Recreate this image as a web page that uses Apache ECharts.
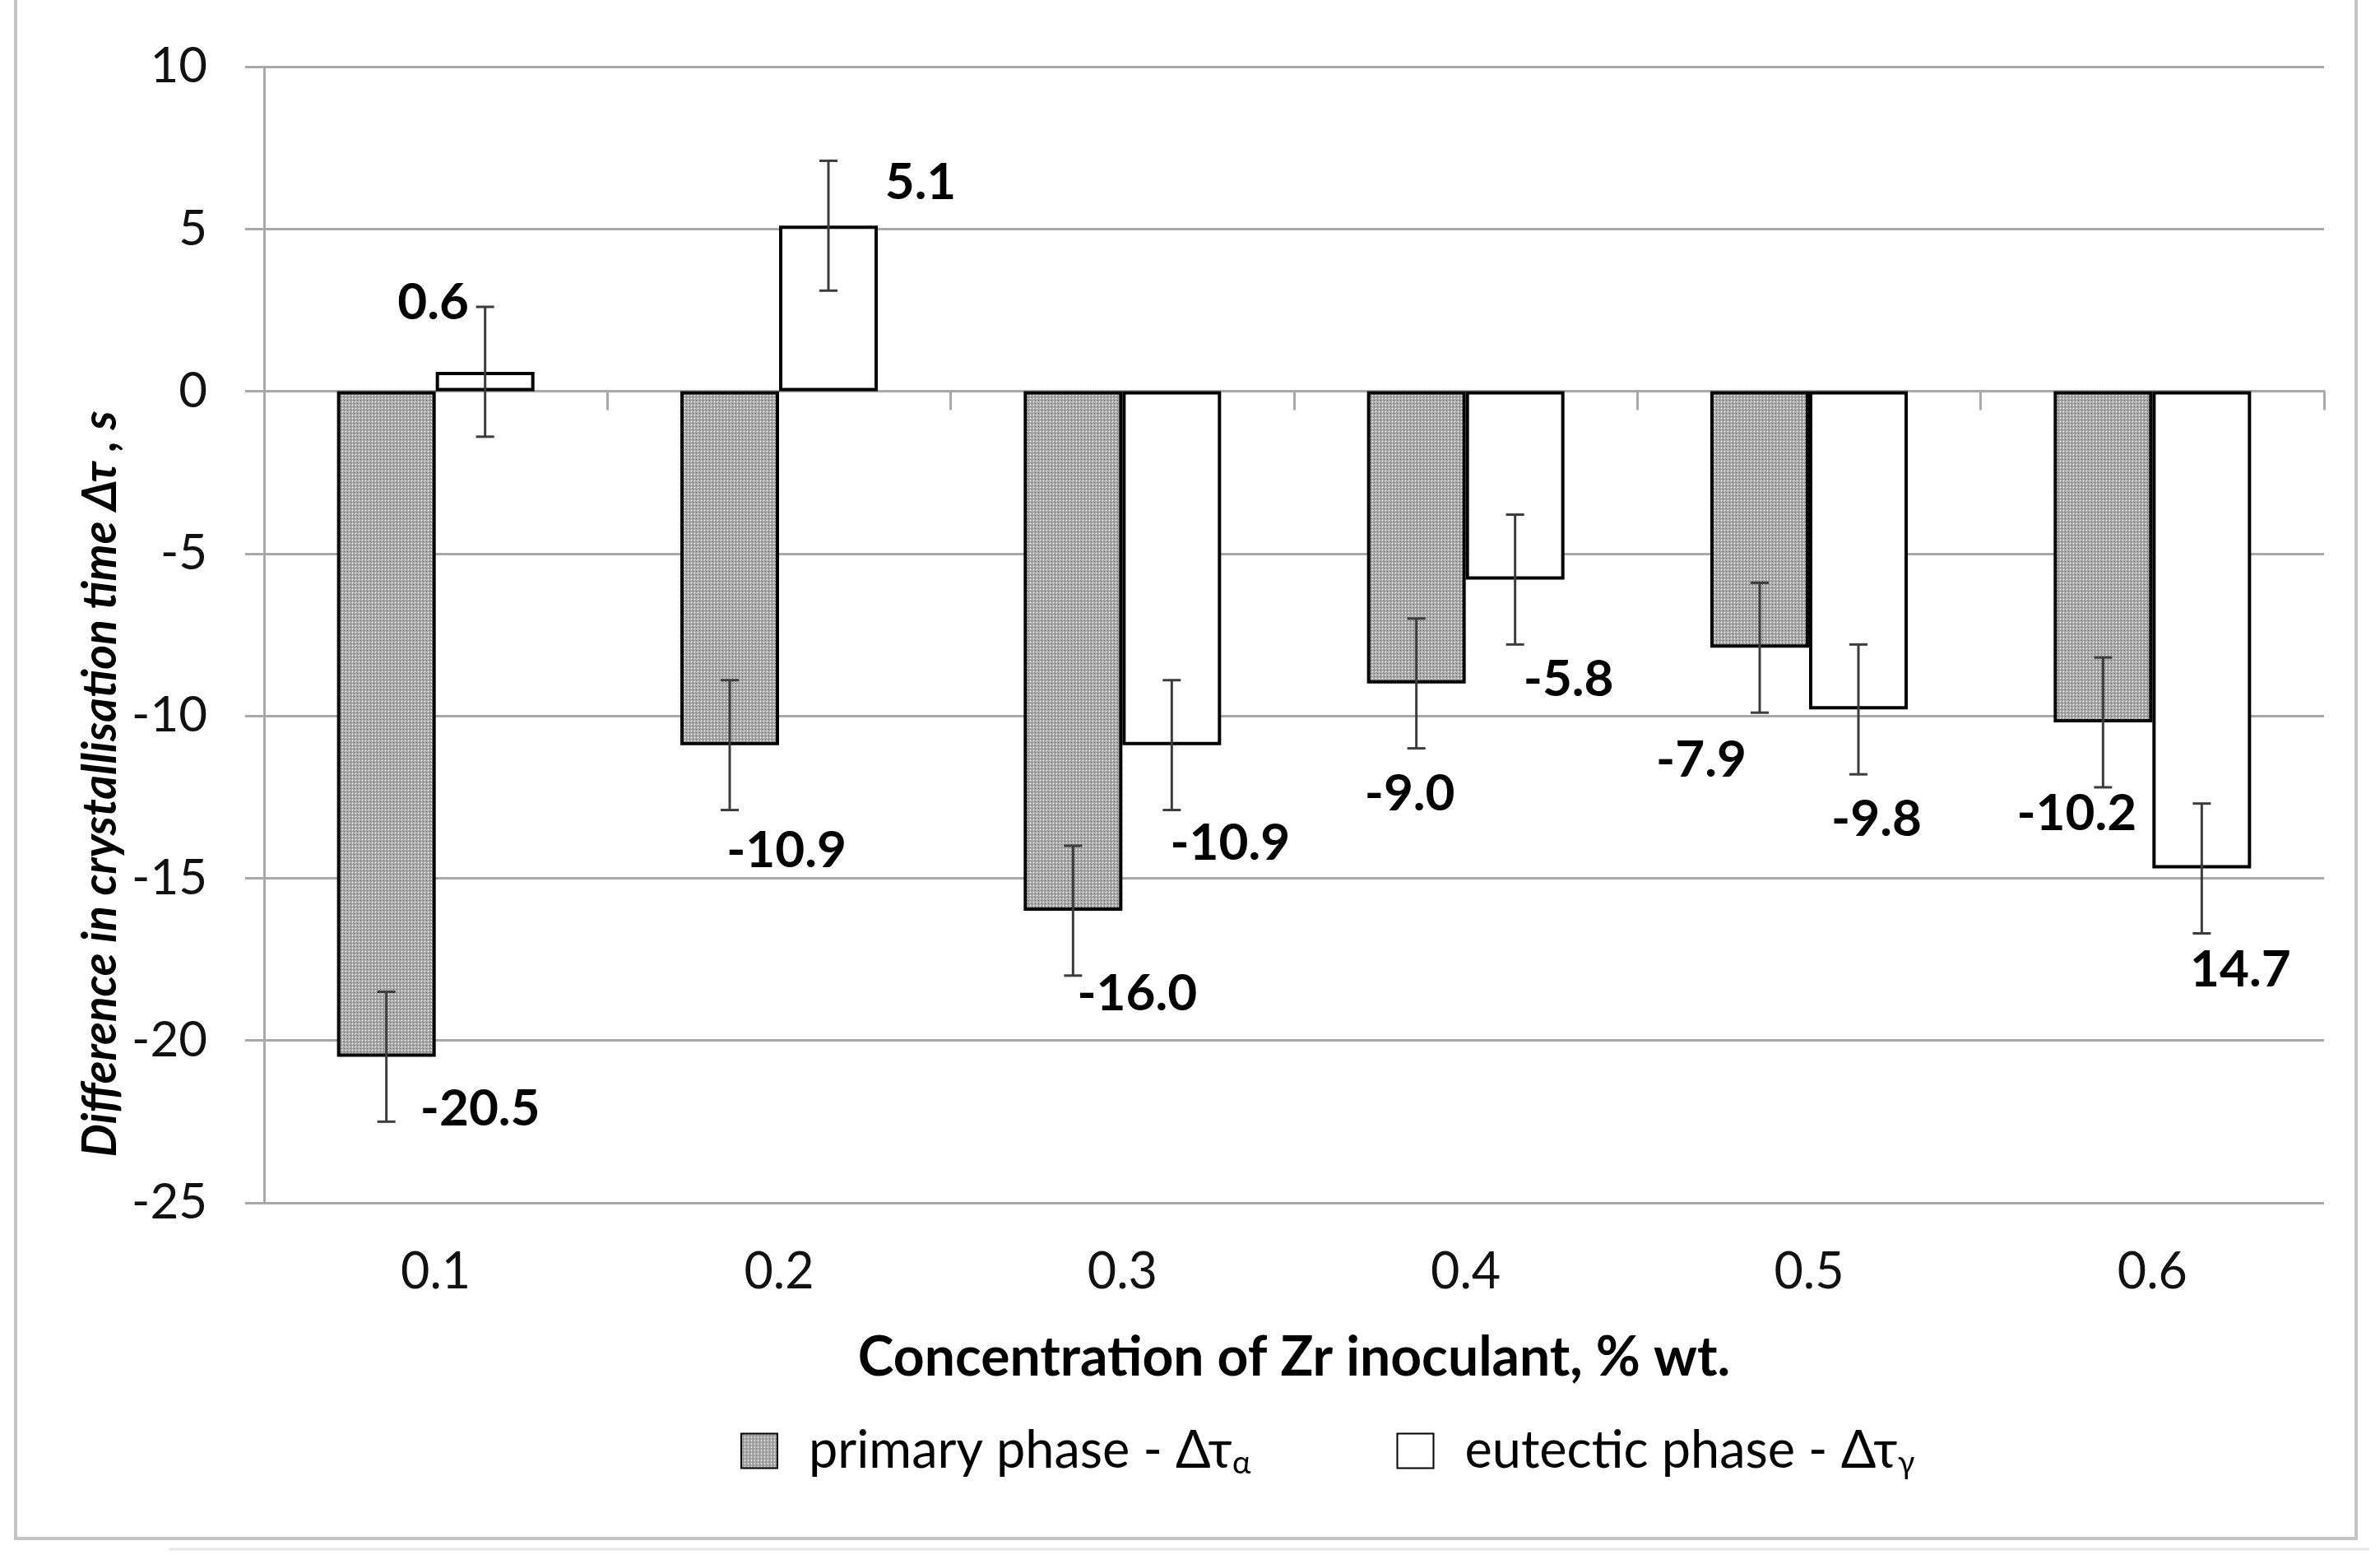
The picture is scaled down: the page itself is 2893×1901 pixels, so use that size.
<!DOCTYPE html>
<html><head><meta charset="utf-8">
<script src="https://cdn.jsdelivr.net/npm/echarts@6/dist/echarts.min.js"></script>
<style>html,body{margin:0;padding:0;background:#fff}#c{width:2893px;height:1901px}</style>
</head><body><div id="c"></div>
<script>
// ---- data ----
const categories = ['0.1', '0.2', '0.3', '0.4', '0.5', '0.6'];
const primaryValues = [-20.5, -10.9, -16.0, -9.0, -7.9, -10.2];
const eutecticValues = [0.6, 5.1, -10.9, -5.8, -9.8, -14.7];
const primaryErrors = [2, 2, 2, 2, 2, 2];
const eutecticErrors = [2, 2, 2, 2, 2, 2];
const primaryLabels = ['-20.5', '-10.9', '-16.0', '-9.0', '-7.9', '-10.2'];
const eutecticLabels = ['0.6', '5.1', '-10.9', '-5.8', '-9.8', '14.7'];
const yTicks = [-25, -20, -15, -10, -5, 0, 5, 10];

// ---- styling (label offsets in px from bar end) ----
const primaryLabelOffsets = [[114, 64], [69, 128], [78, 101], [-8, 134], [-71, 137], [-32, 111]];
const eutecticLabelOffsets = [[-63, -84], [112, -52], [71, 119], [65, 122], [22, 134], [47, 123]];
const BAR_W = 120;
const GRID_COLOR = '#a9a9a9';
const FONT = 'Lato';

// pattern fill for primary phase
const pc = document.createElement('canvas');
pc.width = 8; pc.height = 8;
const pctx = pc.getContext('2d');
for (let i = 0; i < 8; i++) {
  for (let j = 0; j < 8; j++) {
    let c = ((i + j) % 2 === 0) ? '#888888' : '#cacaca';
    if (i % 4 === 0 && j % 4 === 0) c = '#ffffff';
    if (i % 4 === 2 && j % 4 === 2) c = '#444444';
    pctx.fillStyle = c; pctx.fillRect(i, j, 1, 1);
  }
}
const patternFill = { image: pc, repeat: 'repeat' };

function errorSeries(name, values, errs, labels, offsets, dx) {
  return {
    type: 'custom',
    name: name + '_err',
    xAxisIndex: 0, yAxisIndex: 0, z: 5,
    encode: { x: 0, y: 1 },
    data: values.map((v, i) => [i, v, errs[i]]),
    renderItem: function (params, api) {
      const i = api.value(0), v = api.value(1), e = api.value(2);
      const top = api.coord([i, v + e]);
      const bot = api.coord([i, v - e]);
      const mid = api.coord([i, v]);
      const x = top[0] + dx;
      const cw = 11;
      const s = { stroke: '#3c3c3c', lineWidth: 3 };
      return {
        type: 'group',
        children: [
          { type: 'line', shape: { x1: x, y1: top[1], x2: x, y2: bot[1] }, style: s },
          { type: 'line', shape: { x1: x - cw, y1: top[1], x2: x + cw, y2: top[1] }, style: s },
          { type: 'line', shape: { x1: x - cw, y1: bot[1], x2: x + cw, y2: bot[1] }, style: s },
          { type: 'text', x: x + offsets[i][0], y: mid[1] + offsets[i][1],
            style: { text: labels[i], fill: '#000', fontFamily: FONT, fontWeight: 'bold', fontSize: 62,
                     align: 'center', verticalAlign: 'middle' } }
        ]
      };
    }
  };
}

const chart = echarts.init(document.getElementById('c'));
chart.setOption({
  backgroundColor: '#ffffff',
  animation: false,
  grid: { left: 321, top: 81, width: 2504, height: 1381, containLabel: false },
  legend: {
    data: ['primary', 'eutectic'],
    left: 895, top: 1727,
    itemWidth: 44, itemHeight: 42, itemGap: 177,
    icon: 'rect',
    formatter: function (n) {
      return n === 'primary' ? 'primary phase - Δτ{s|α}' : 'eutectic phase - Δτ{s|γ}';
    },
    textStyle: {
      fontFamily: FONT, fontSize: 63, color: '#000',
      padding: [0, 0, 0, 33],
      rich: { s: { fontFamily: FONT, fontSize: 38, color: '#000', verticalAlign: 'bottom', padding: [30, 0, 0, 0] } }
    }
  },
  xAxis: [
    {
      type: 'category', data: categories, position: 'bottom',
      axisLine: { show: false, onZero: false },
      axisTick: { show: false },
      axisLabel: { margin: 54, fontFamily: FONT, fontSize: 61, color: '#111' },
      name: 'Concentration of Zr inoculant, % wt.',
      nameLocation: 'middle', nameGap: 156,
      nameTextStyle: { fontFamily: FONT, fontSize: 66, fontWeight: 'bold', color: '#000' }
    },
    {
      type: 'category', data: categories, position: 'bottom',
      axisLine: { show: true, onZero: true, lineStyle: { color: GRID_COLOR, width: 3 } },
      axisTick: { show: true, length: 23, lineStyle: { color: GRID_COLOR, width: 3 } },
      axisLabel: { show: false },
      splitLine: { show: false }
    }
  ],
  yAxis: {
    type: 'value',
    min: yTicks[0], max: yTicks[yTicks.length - 1], interval: yTicks[1] - yTicks[0],
    axisLine: { show: true, lineStyle: { color: GRID_COLOR, width: 3 } },
    axisTick: { show: true, length: 23, lineStyle: { color: GRID_COLOR, width: 3 } },
    splitLine: { show: true, lineStyle: { color: GRID_COLOR, width: 3 } },
    axisLabel: { margin: 69, fontFamily: FONT, fontSize: 60, color: '#111' }
  },
  graphic: [
    { type: 'text', x: 123, y: 953, rotation: Math.PI / 2,
      style: { text: 'Difference in crystallisation time Δτ , s', fontFamily: FONT, fontSize: 57,
               fontWeight: 'bold', fontStyle: 'italic', fill: '#000', align: 'center', verticalAlign: 'middle' } },
    { type: 'polyline', shape: { points: [[19, 0], [19, 1870], [2864, 1870], [2864, 0]] },
      style: { fill: null, stroke: '#c4c4c4', lineWidth: 4 } },
    { type: 'line', shape: { x1: 205, y1: 1883, x2: 2880, y2: 1883 },
      style: { stroke: '#e6e6e6', lineWidth: 3 } }
  ],
  series: [
    {
      name: 'primary', type: 'bar', data: primaryValues, barWidth: BAR_W, barGap: '0%',
      itemStyle: { color: patternFill, borderColor: '#000', borderWidth: 4 }
    },
    {
      name: 'eutectic', type: 'bar', data: eutecticValues, barWidth: BAR_W, barGap: '0%',
      itemStyle: { color: '#ffffff', borderColor: '#000', borderWidth: 4 }
    },
    errorSeries('primary', primaryValues, primaryErrors, primaryLabels, primaryLabelOffsets, -BAR_W / 2),
    errorSeries('eutectic', eutecticValues, eutecticErrors, eutecticLabels, eutecticLabelOffsets, BAR_W / 2)
  ]
});
</script>
</body></html>
